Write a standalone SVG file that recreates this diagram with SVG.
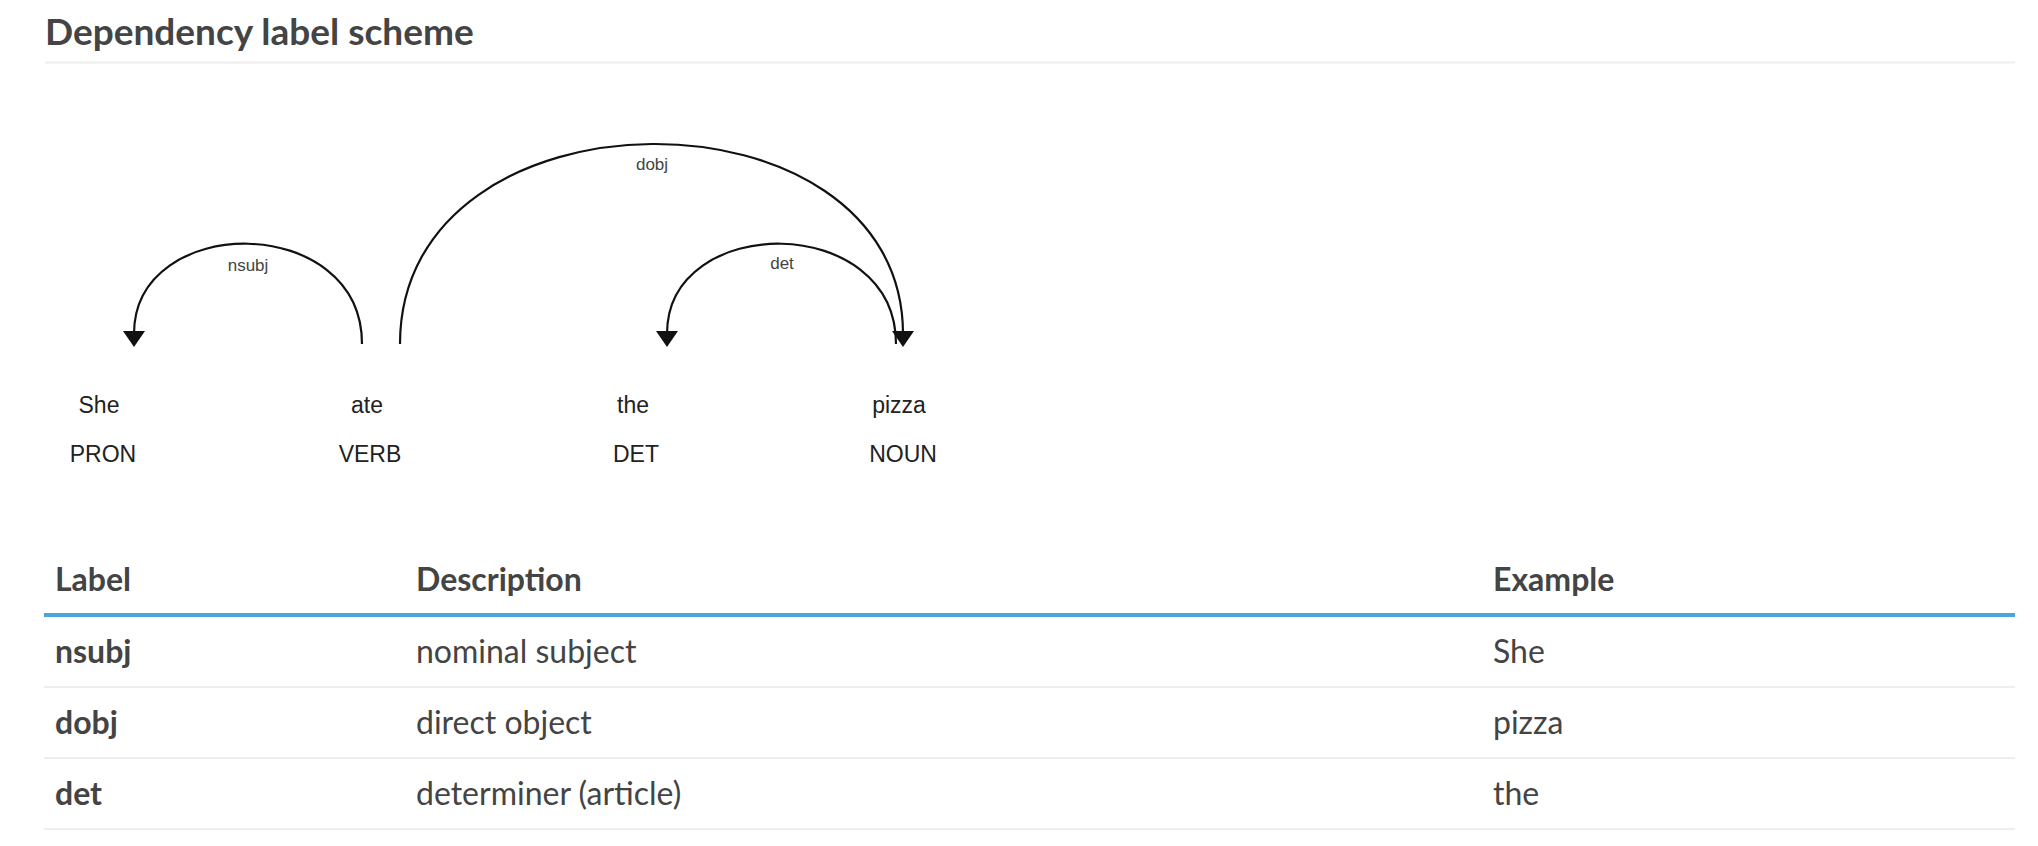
<svg xmlns="http://www.w3.org/2000/svg" width="2038" height="846" viewBox="0 0 2038 846">
  <style>
    .title { font-family: Lato, "Liberation Sans", sans-serif; font-weight: bold; font-size: 37px; fill: #444; }
    .th { font-family: Lato, "Liberation Sans", sans-serif; font-weight: bold; font-size: 32px; fill: #444; }
    .tdb { font-family: Lato, "Liberation Sans", sans-serif; font-weight: bold; font-size: 32px; fill: #444; }
    .td { font-family: Lato, "Liberation Sans", sans-serif; font-size: 32px; fill: #444; }
    .word { font-family: "Liberation Sans", Arial, sans-serif; font-size: 23px; fill: #222; text-anchor: middle; }
    .lab { font-family: "Liberation Sans", Arial, sans-serif; font-size: 17px; fill: #444; text-anchor: middle; }
    .arc { fill: none; stroke: #111; stroke-width: 2.2; }
    .head { fill: #111; }
    .rule { fill: #eeeeee; }
    .blue { fill: #4aa6d6; }
  </style>
  <rect width="2038" height="846" fill="#ffffff"/>

  <g id="title">
    <text class="title" x="45" y="45">Dependency label scheme</text>
    <rect class="rule" x="45" y="61.5" width="1970" height="2"/>
  </g>

  <g id="connectors">
    <path class="arc" d="M362,344 C362,212 134,212 134,334"/>
    <polygon class="head" points="123,331 145,331 134,347"/>
    <path class="arc" d="M400,344 C400,79 903,79 903,334"/>
    <polygon class="head" points="892,331 914,331 903,347"/>
    <path class="arc" d="M896,344 C896,212 667,212 667,334"/>
    <polygon class="head" points="656,331 678,331 667,347"/>
    <text class="lab" x="248" y="271">nsubj</text>
    <text class="lab" x="652" y="170">dobj</text>
    <text class="lab" x="782" y="269">det</text>
  </g>

  <g id="w-she">
    <text class="word" x="99" y="413">She</text>
    <text class="word" x="103" y="462">PRON</text>
  </g>
  <g id="w-ate">
    <text class="word" x="367" y="413">ate</text>
    <text class="word" x="370" y="462">VERB</text>
  </g>
  <g id="w-the">
    <text class="word" x="633" y="413">the</text>
    <text class="word" x="636" y="462">DET</text>
  </g>
  <g id="w-pizza">
    <text class="word" x="899" y="413">pizza</text>
    <text class="word" x="903" y="462">NOUN</text>
  </g>

  <g id="table">
    <g id="table-header">
      <text class="th" x="55" y="591">Label</text>
      <text class="th" x="416" y="591">Description</text>
      <text class="th" x="1493" y="591">Example</text>
      <rect class="blue" x="44" y="613" width="1971" height="4"/>
    </g>
    <g id="row-nsubj">
      <text class="tdb" x="55" y="663">nsubj</text>
      <text class="td" x="416" y="663">nominal subject</text>
      <text class="td" x="1493" y="663">She</text>
      <rect class="rule" x="44" y="686" width="1971" height="2"/>
    </g>
    <g id="row-dobj">
      <text class="tdb" x="55" y="734">dobj</text>
      <text class="td" x="416" y="734">direct object</text>
      <text class="td" x="1493" y="734">pizza</text>
      <rect class="rule" x="44" y="757" width="1971" height="2"/>
    </g>
    <g id="row-det">
      <text class="tdb" x="55" y="805">det</text>
      <text class="td" x="416" y="805">determiner (article)</text>
      <text class="td" x="1493" y="805">the</text>
      <rect class="rule" x="44" y="828" width="1971" height="2"/>
    </g>
  </g>
</svg>
